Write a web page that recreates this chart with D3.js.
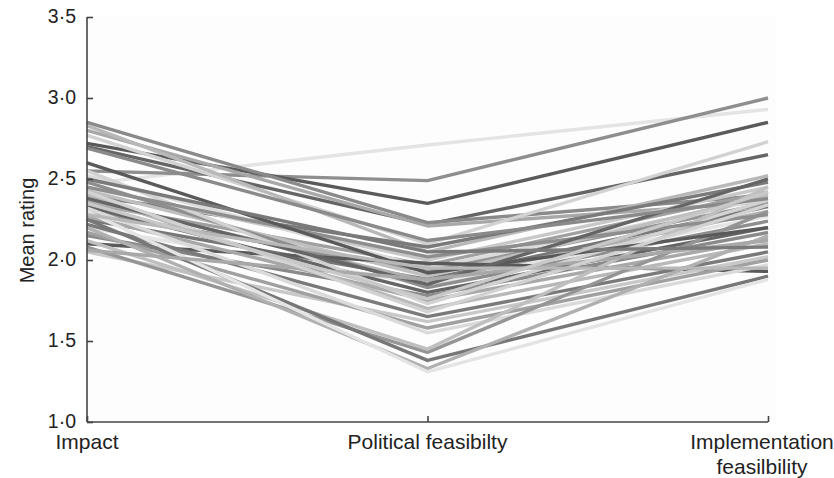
<!DOCTYPE html>
<html>
<head>
<meta charset="utf-8">
<script src="https://cdn.jsdelivr.net/npm/d3@7"></script>
<style>
  body { margin: 0; background: #fff; }
  svg { display: block; font-family: "Liberation Sans", Arial, sans-serif; }
  svg text { font-size: 19.5px; fill: #222; }
  svg text.cat { font-size: 21px; }
</style>
</head>
<body>
<div id="chart"></div>
<script>
// axes
const criteria = ["Impact", "Political feasibilty", "Implementation feasilbility"]
const yTicks = [1.0, 1.5, 2.0, 2.5, 3.0, 3.5]

// mean rating of each option on each criterion
const impact = [2.47, 2.55, 2.72, 2.70, 2.85, 2.80, 2.77, 2.83, 2.40, 2.45, 2.35, 2.52, 2.30, 2.43,
  2.25, 2.37, 2.20, 2.48, 2.10, 2.33, 2.15, 2.27, 2.55, 2.40, 2.22, 2.05, 2.17, 2.32, 2.08, 2.12,
  2.25, 2.20, 2.30, 2.45, 2.60, 2.38, 2.69, 2.06, 2.42, 2.28, 2.50, 2.35]
const political = [2.71, 2.49, 2.35, 2.22, 2.23, 2.21, 2.10, 2.05, 2.08, 2.00, 1.97, 1.95, 1.93, 1.90,
  1.88, 1.87, 1.85, 1.83, 1.98, 1.80, 1.78, 1.75, 1.73, 1.70, 1.65, 1.62, 1.58, 1.55, 1.43, 1.45,
  1.38, 1.33, 1.31, 2.02, 1.92, 1.85, 2.12, 1.88, 1.68, 1.95, 2.05, 1.76]
const implementation = [2.93, 3.00, 2.85, 2.65, 2.40, 2.36, 2.73, 2.52, 2.48, 2.45, 2.42, 2.38, 2.35, 2.40,
  2.33, 2.30, 2.27, 2.24, 1.93, 2.20, 2.17, 2.13, 2.37, 2.10, 2.05, 2.02, 2.00, 1.97, 2.30, 2.45,
  1.90, 2.15, 1.88, 2.28, 2.20, 2.50, 2.38, 2.12, 2.34, 1.95, 2.08, 2.42]

const grays = ["#e4e4e4", "#8e8e8e", "#5a5a5a", "#656565", "#8a8a8a", "#a8a8a8", "#d2d2d2", "#b8b8b8",
  "#7a7a7a", "#c8c8c8", "#a0a0a0", "#dadada", "#959595", "#bfbfbf", "#777", "#b0b0b0"]

const width = 834, height = 478
const margin = {left: 87, right: 66, top: 17, bottom: 56}

const svg = d3.select("#chart").append("svg")
  .attr("width", width)
  .attr("height", height)

const x = d3.scalePoint()
  .domain(criteria)
  .range([margin.left, width - margin.right])

const y = d3.scaleLinear()
  .domain([1, 3.5])
  .range([height - margin.bottom, margin.top])

svg.append("rect")
  .attr("x", margin.left)
  .attr("y", margin.top)
  .attr("width", width - margin.right - margin.left + 8)
  .attr("height", height - margin.bottom - margin.top)
  .attr("fill", "#fdfdfd")

const rows = impact.map((d, i) => [impact[i], political[i], implementation[i]])
const color = d3.scaleOrdinal().domain(d3.range(rows.length)).range(grays)

const line = d3.line()
  .x((d, i) => x(criteria[i]))
  .y(d => y(d))

svg.append("g")
  .attr("fill", "none")
  .attr("stroke-width", 3.4)
  .attr("stroke-linejoin", "round")
  .selectAll("path")
  .data(rows)
  .join("path")
  .attr("stroke", (d, i) => color(i))
  .attr("d", line)

const fmt = d => d.toFixed(1).replace(".", "\u00b7")

const yAxis = svg.append("g")
  .attr("transform", `translate(${margin.left},0)`)
  .call(d3.axisLeft(y).tickValues(yTicks).tickFormat(fmt).tickSize(-6).tickPadding(11))
yAxis.select(".domain").attr("d", `M0,${y(3.5)}V${y(1)}`)
yAxis.selectAll("text").attr("dy", "0.28em")

const xAxis = svg.append("g")
  .attr("transform", `translate(0,${y(1)})`)
  .call(d3.axisBottom(x).tickSize(-6).tickPadding(9).tickFormat(""))
xAxis.select(".domain").attr("d", `M${x.range()[0]},0H${x.range()[1]}`)

svg.selectAll(".domain, .tick line")
  .attr("stroke", "#444")
  .attr("stroke-width", 1.6)

// category labels, the last one wraps onto two lines
const labelLines = [["Impact"], ["Political feasibilty"], ["Implementation", "feasilbility"]]
svg.append("g")
  .selectAll("text")
  .data(criteria)
  .join("text")
  .attr("class", "cat")
  .attr("x", (d, i) => i === 2 ? x(d) - 6 : x(d))
  .attr("y", y(1) + 27)
  .attr("text-anchor", "middle")
  .selectAll("tspan")
  .data(d => labelLines[criteria.indexOf(d)])
  .join("tspan")
  .attr("x", function() { return d3.select(this.parentNode).attr("x") })
  .attr("dy", (d, i) => i === 0 ? 0 : 25)
  .text(d => d)

svg.append("text")
  .attr("transform", `translate(34,${(y(1) + y(3.5)) / 2 + 11}) rotate(-90)`)
  .attr("text-anchor", "middle")
  .style("font-size", "20px")
  .text("Mean rating")
</script>
</body>
</html>
